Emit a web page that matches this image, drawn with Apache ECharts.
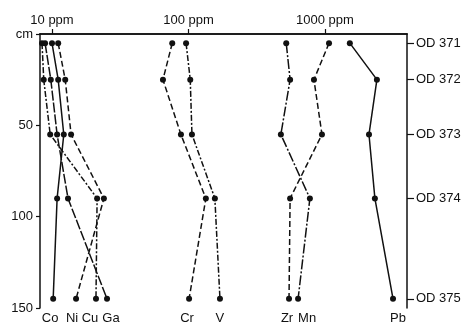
<!DOCTYPE html>
<html>
<head>
<meta charset="utf-8">
<script src="https://cdn.jsdelivr.net/npm/echarts@6/dist/echarts.min.js"></script>
<style>html,body{margin:0;padding:0;background:#fff}#c{width:471px;height:322px}</style>
</head>
<body>
<div id="c"></div>
<script>
// Depth of samples (cm) and sample names
const depths = [5, 25, 55, 90, 145];
const samples = ['OD 371', 'OD 372', 'OD 373', 'OD 374', 'OD 375'];
const depthTicks = [0, 50, 100, 150];
const ppmTicks = [10, 100, 1000];

// Element concentrations (ppm), top to bottom
const Co = [10, 11.1, 12.2, 10.9, 10.2];
const Ni = [11.1, 12.5, 13.8, 24, 15];
const Cu = [8.45, 8.7, 9.7, 21.4, 21];
const Ga = [8.9, 9.8, 10.9, 13.1, 25.3];
const Cr = [76, 65, 88, 134, 101];
const V  = [96, 103, 106, 156, 170];
const Zr = [1070, 830, 950, 555, 545];
const Mn = [520, 555, 475, 775, 635];
const Pb = [1520, 2400, 2100, 2320, 3150];

const FONT = 'Liberation Sans';
const FS = 13;
const seriesDefs = [
  {name: 'Co', data: Co, type: 'solid', off: [-3, 0]},
  {name: 'Ni', data: Ni, type: [6, 3], off: [-4, 0]},
  {name: 'Cu', data: Cu, type: [6, 2, 2, 2], off: [-6, 0]},
  {name: 'Ga', data: Ga, type: [10, 2], off: [4, 0]},
  {name: 'Cr', data: Cr, type: [6, 3], off: [-2, 0]},
  {name: 'V',  data: V,  type: [6, 2, 2, 2], off: [0, 0]},
  {name: 'Zr', data: Zr, type: [6, 3], off: [-2, 0]},
  {name: 'Mn', data: Mn, type: [10, 2, 2, 2], off: [9, 0]},
  {name: 'Pb', data: Pb, type: 'solid', off: [5, 0]}
];

const lg = v => Math.log10(v);
const xMin = 0.9121, xMax = 3.6007;

const series = seriesDefs.map(s => ({
  type: 'line',
  name: s.name,
  xAxisIndex: 0,
  yAxisIndex: 0,
  symbol: 'circle',
  symbolSize: 6,
  itemStyle: {color: '#111'},
  lineStyle: {color: '#111', width: 1.5, type: s.type},
  data: s.data.map((v, i) => {
    const p = {value: [lg(v), depths[i]]};
    if (i === s.data.length - 1) {
      p.label = {
        show: true, position: 'bottom', distance: 10, offset: s.off,
        formatter: s.name, color: '#111', fontSize: FS, fontFamily: FONT
      };
    }
    return p;
  }),
  animation: false
}));

const chart = echarts.init(document.getElementById('c'));
chart.setOption({
  backgroundColor: '#fff',
  animation: false,
  grid: {left: 40, right: 64, top: 34, bottom: 14},
  xAxis: [
    {
      type: 'value', position: 'top', min: xMin, max: xMax,
      axisLine: {show: true, lineStyle: {color: '#111', width: 1.5}},
      axisTick: {show: true, inside: false, length: 5, customValues: ppmTicks.map(lg), lineStyle: {color: '#111', width: 1.2}},
      axisLabel: {show: true, customValues: ppmTicks.map(lg), margin: 7,
        formatter: v => Math.round(Math.pow(10, v)) + ' ppm',
        color: '#111', fontSize: FS, fontFamily: FONT},
      splitLine: {show: false}
    },
    {
      type: 'value', position: 'bottom', min: xMin, max: xMax,
      axisLine: {show: true, lineStyle: {color: '#111', width: 1.5}},
      axisTick: {show: false}, axisLabel: {show: false}, splitLine: {show: false}
    }
  ],
  yAxis: [
    {
      type: 'value', inverse: true, min: 0, max: 150, position: 'left',
      axisLine: {show: true, lineStyle: {color: '#111', width: 1.5}},
      axisTick: {show: true, length: 4, customValues: depthTicks, lineStyle: {color: '#111', width: 1.2}},
      axisLabel: {customValues: depthTicks, margin: 7, formatter: v => v === 0 ? 'cm' : String(v),
        color: '#111', fontSize: FS, fontFamily: FONT},
      splitLine: {show: false}
    },
    {
      type: 'value', inverse: true, min: 0, max: 150, position: 'right',
      axisLine: {show: true, lineStyle: {color: '#111', width: 1.5}},
      axisTick: {show: true, length: 7, customValues: depths, lineStyle: {color: '#111', width: 1.2}},
      axisLabel: {customValues: depths, margin: 9,
        formatter: v => samples[depths.indexOf(v)] || '',
        color: '#111', fontSize: FS, fontFamily: FONT},
      splitLine: {show: false}
    }
  ],
  series: series
});
</script>
</body>
</html>
